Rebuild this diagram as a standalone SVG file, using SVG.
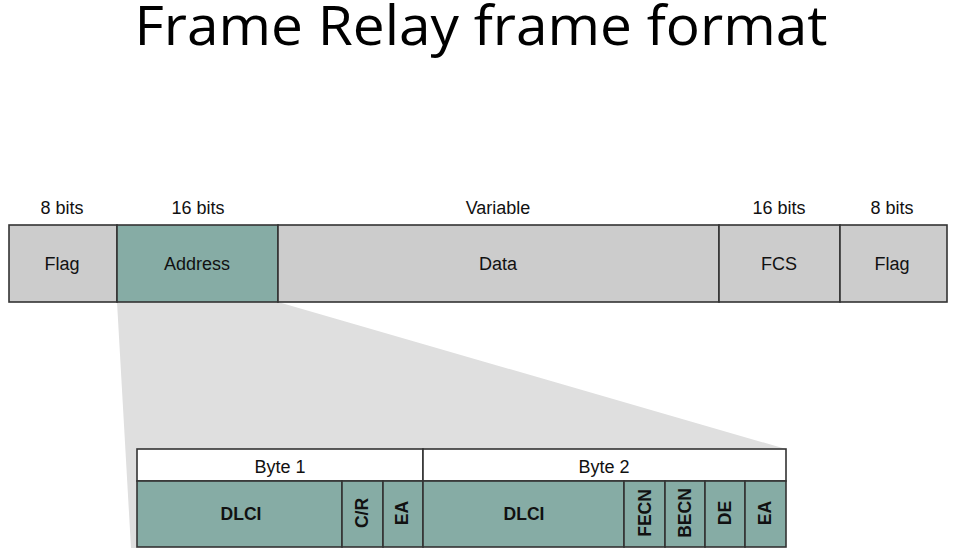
<svg xmlns="http://www.w3.org/2000/svg" width="960" height="557" viewBox="0 0 960 557">
<style>
.lbl{font-family:"Liberation Sans",Arial,sans-serif;font-size:18px;fill:#111;text-anchor:middle}
.b{font-weight:bold;font-size:17.5px}
.g{fill:#cccccc;stroke:#333;stroke-width:1.6}
.t{fill:#86aca5;stroke:#333;stroke-width:1.6}
.w{fill:#ffffff;stroke:#333;stroke-width:1.6}
</style>
<rect width="960" height="557" fill="#ffffff"/>
<text x="481" y="45" font-family="'Open Sans','Liberation Sans',sans-serif" font-size="55" fill="#000" text-anchor="middle" textLength="693" lengthAdjust="spacingAndGlyphs">Frame Relay frame format</text>

<g id="connectors">
<polygon points="117,302 278,302 786,449 137,449 137,548 131,548" fill="#dfdfdf"/>
</g>

<g id="top-labels">
<text class="lbl" x="62" y="214">8 bits</text>
<text class="lbl" x="198" y="214">16 bits</text>
<text class="lbl" x="498" y="214">Variable</text>
<text class="lbl" x="779" y="214">16 bits</text>
<text class="lbl" x="892" y="214">8 bits</text>
</g>

<g id="flag1"><rect class="g" x="9" y="225" width="108" height="77"/><text class="lbl" x="62" y="270">Flag</text></g>
<g id="address"><rect class="t" x="117" y="225" width="161" height="77"/><text class="lbl" x="197" y="270">Address</text></g>
<g id="data"><rect class="g" x="278" y="225" width="441" height="77"/><text class="lbl" x="498" y="270">Data</text></g>
<g id="fcs"><rect class="g" x="719" y="225" width="121" height="77"/><text class="lbl" x="779" y="270">FCS</text></g>
<g id="flag2"><rect class="g" x="840" y="225" width="107" height="77"/><text class="lbl" x="892" y="270">Flag</text></g>

<g id="byte1"><rect class="w" x="137" y="449" width="286" height="32"/><text class="lbl" x="280" y="473">Byte 1</text></g>
<g id="byte2"><rect class="w" x="423" y="449" width="363" height="32"/><text class="lbl" x="604" y="473">Byte 2</text></g>

<g id="dlci1"><rect class="t" x="137" y="481" width="205" height="66"/><text class="lbl b" x="241" y="520">DLCI</text></g>
<g id="cr"><rect class="t" x="342" y="481" width="41" height="66"/><text class="lbl b" transform="translate(368,513) rotate(-90)">C/R</text></g>
<g id="ea1"><rect class="t" x="383" y="481" width="40" height="66"/><text class="lbl b" transform="translate(408,513) rotate(-90)">EA</text></g>
<g id="dlci2"><rect class="t" x="423" y="481" width="201" height="66"/><text class="lbl b" x="524" y="520">DLCI</text></g>
<g id="fecn"><rect class="t" x="624" y="481" width="41" height="66"/><text class="lbl b" transform="translate(651,513) rotate(-90)">FECN</text></g>
<g id="becn"><rect class="t" x="665" y="481" width="40" height="66"/><text class="lbl b" transform="translate(691,513) rotate(-90)">BECN</text></g>
<g id="de"><rect class="t" x="705" y="481" width="40" height="66"/><text class="lbl b" transform="translate(731,513) rotate(-90)">DE</text></g>
<g id="ea2"><rect class="t" x="745" y="481" width="41" height="66"/><text class="lbl b" transform="translate(771,513) rotate(-90)">EA</text></g>
</svg>
